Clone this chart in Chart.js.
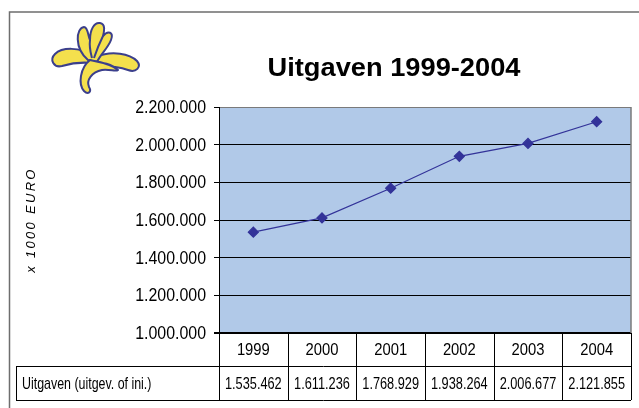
<!DOCTYPE html>
<html>
<head>
<meta charset="utf-8">
<script src="https://cdn.jsdelivr.net/npm/chart.js@4.4.1/dist/chart.umd.min.js"></script>
<style>
html,body{margin:0;padding:0;background:#fff;}
#wrap{width:639px;height:408px;position:relative;}
</style>
</head>
<body>
<div id="wrap"><canvas id="c" width="639" height="408"></canvas></div>
<script>
// ---- data ----
const years = ['1999', '2000', '2001', '2002', '2003', '2004'];
const uitgaven = [1535462, 1611236, 1768929, 1938264, 2006677, 2121855];
const seriesLabel = 'Uitgaven (uitgev. of ini.)';
const chartTitle = 'Uitgaven 1999-2004';
const yAxisTitle = 'x 1000 EURO';
const yMin = 1000000, yMax = 2200000, yStep = 200000;

const FONT = "'Liberation Sans', Arial, sans-serif";
function fmt(v) {
  return String(Math.round(v)).replace(/\B(?=(\d{3})+(?!\d))/g, '.');
}
function drawText(ctx, txt, x, y, font, sx, align) {
  ctx.save();
  ctx.translate(x, y);
  ctx.scale(sx, 1);
  ctx.font = font;
  ctx.textAlign = align;
  ctx.textBaseline = 'middle';
  ctx.fillStyle = '#000';
  ctx.fillText(txt, 0, 0);
  ctx.restore();
}

function drawLogo(ctx) {
  ctx.save();
  ctx.fillStyle = '#f4e04d';
  ctx.strokeStyle = '#3b3f8c';
  ctx.lineWidth = 2;
  ctx.lineJoin = 'round';
  // left sweeping petal
  ctx.beginPath();
  ctx.moveTo(92, 55);
  ctx.bezierCurveTo(80, 47, 62, 47, 55, 54);
  ctx.bezierCurveTo(49, 60, 54, 68, 62, 66);
  ctx.bezierCurveTo(72, 63, 82, 62, 92, 63);
  ctx.closePath(); ctx.fill(); ctx.stroke();
  // right sweeping petal
  ctx.beginPath();
  ctx.moveTo(96, 57);
  ctx.bezierCurveTo(112, 50, 130, 54, 137, 61);
  ctx.bezierCurveTo(142, 67, 136, 73, 128, 70);
  ctx.bezierCurveTo(118, 66, 106, 66, 97, 66);
  ctx.closePath(); ctx.fill(); ctx.stroke();
  // upright petals
  ctx.beginPath();
  ctx.moveTo(88, 60);
  ctx.bezierCurveTo(74, 48, 76, 28, 84, 27);
  ctx.bezierCurveTo(88, 27, 88, 36, 90, 40);
  ctx.bezierCurveTo(90, 30, 94, 22, 100, 23);
  ctx.bezierCurveTo(106, 24, 104, 32, 103, 36);
  ctx.bezierCurveTo(108, 30, 114, 32, 111, 40);
  ctx.bezierCurveTo(108, 48, 100, 55, 97, 62);
  ctx.closePath(); ctx.fill(); ctx.stroke();
  // inner strokes of upright petals
  ctx.beginPath();
  ctx.moveTo(90, 40); ctx.bezierCurveTo(89, 48, 91, 54, 92, 58);
  ctx.moveTo(103, 36); ctx.bezierCurveTo(99, 44, 96, 52, 94, 58);
  ctx.stroke();
  // lower curling petal / stem
  ctx.beginPath();
  ctx.moveTo(90, 60);
  ctx.bezierCurveTo(80, 68, 78, 84, 84, 91);
  ctx.bezierCurveTo(88, 95, 92, 92, 89, 87);
  ctx.bezierCurveTo(86, 80, 92, 72, 102, 70);
  ctx.bezierCurveTo(110, 69, 116, 72, 118, 70);
  ctx.bezierCurveTo(112, 64, 100, 62, 90, 60);
  ctx.closePath(); ctx.fill(); ctx.stroke();
  ctx.restore();
}

const deco = {
  id: 'deco',
  beforeDraw(chart) {
    const {ctx, chartArea: a} = chart;
    ctx.save();
    ctx.fillStyle = '#fff';
    ctx.fillRect(0, 0, chart.width, chart.height);
    // outer frame (left + top)
    ctx.strokeStyle = '#6e6e6e';
    ctx.lineWidth = 1.5;
    ctx.beginPath();
    ctx.moveTo(9.5, 408); ctx.lineTo(9.5, 12); ctx.lineTo(639, 12);
    ctx.stroke();
    // plot background
    ctx.fillStyle = '#b1c9e8';
    ctx.fillRect(a.left, a.top, a.right - a.left, a.bottom - a.top);
    ctx.restore();
  },
  afterDatasetsDraw(chart) {
    const {ctx, chartArea: a} = chart;
    ctx.save();
    ctx.strokeStyle = '#7a7a7a';
    ctx.lineWidth = 1.5;
    ctx.beginPath();
    ctx.moveTo(a.right, a.top); ctx.lineTo(a.right, a.bottom);
    ctx.stroke();
    ctx.restore();
  },
  afterDraw(chart) {
    const {ctx, chartArea: a} = chart;
    const x = chart.scales.x, y = chart.scales.y;
    ctx.save();
    // title
    drawText(ctx, chartTitle, 394, 69, 'bold 25px ' + FONT, 1.09, 'center');
    // y tick labels (condensed)
    y.ticks.forEach(t => {
      drawText(ctx, fmt(t.value), 206, y.getPixelForValue(t.value) + 1, '18px ' + FONT, 0.885, 'right');
    });
    // y axis title
    ctx.save();
    ctx.translate(31, 220);
    ctx.rotate(-Math.PI / 2);
    ctx.font = 'italic 13px ' + FONT;
    ctx.letterSpacing = '2.3px';
    ctx.textAlign = 'center';
    ctx.textBaseline = 'middle';
    ctx.fillStyle = '#000';
    ctx.fillText(yAxisTitle, 0, 0);
    ctx.restore();
    // table
    const rowTop = a.bottom, rowMid = 366, rowBot = 400, labelLeft = 16;
    const half = (x.getPixelForValue(1) - x.getPixelForValue(0)) / 2;
    ctx.strokeStyle = '#000';
    ctx.lineWidth = 1;
    ctx.beginPath();
    ctx.moveTo(labelLeft, rowMid + 0.5); ctx.lineTo(a.right, rowMid + 0.5);
    ctx.moveTo(labelLeft, rowBot + 0.5); ctx.lineTo(a.right, rowBot + 0.5);
    ctx.moveTo(labelLeft + 0.5, rowMid); ctx.lineTo(labelLeft + 0.5, rowBot);
    for (let i = 0; i <= years.length; i++) {
      const px = Math.round(x.getPixelForValue(0) - half + 2 * half * i) + 0.5;
      ctx.moveTo(px, rowTop); ctx.lineTo(px, rowBot);
    }
    ctx.stroke();
    years.forEach((yr, i) => {
      const cx = x.getPixelForValue(i);
      drawText(ctx, yr, cx, (rowTop + rowMid) / 2 + 1, '17px ' + FONT, 0.87, 'center');
      drawText(ctx, fmt(uitgaven[i]), cx, (rowMid + rowBot) / 2 + 1, '17px ' + FONT, 0.75, 'center');
    });
    drawText(ctx, seriesLabel, 22, (rowMid + rowBot) / 2 + 1, '17px ' + FONT, 0.73, 'left');
    drawLogo(ctx);
    ctx.restore();
  }
};

new Chart(document.getElementById('c'), {
  type: 'line',
  data: {
    labels: years,
    datasets: [{
      label: seriesLabel,
      data: uitgaven,
      borderColor: '#333399',
      backgroundColor: '#333399',
      borderWidth: 1.2,
      pointStyle: 'rectRot',
      pointRadius: 5,
      pointHoverRadius: 5,
      tension: 0
    }]
  },
  options: {
    responsive: false,
    animation: false,
    events: [],
    layout: { padding: { left: 0, top: 107, right: 8, bottom: 75 } },
    plugins: { legend: { display: false }, title: { display: false }, tooltip: { enabled: false } },
    scales: {
      x: { type: 'category', offset: true, display: false },
      y: {
        min: yMin, max: yMax,
        afterFit(s) { s.width = 219; },
        ticks: { stepSize: yStep, display: false },
        grid: {
          color: c => (c.tick && c.tick.value === yMax) ? '#7a7a7a' : '#000',
          lineWidth: c => (c.tick && c.tick.value === yMin) ? 2 : 1,
          tickLength: 5,
          tickColor: '#000',
          drawTicks: true,
          drawOnChartArea: true
        },
        border: { display: true, color: '#000', width: 1 }
      }
    }
  },
  plugins: [deco]
});
</script>
</body>
</html>
